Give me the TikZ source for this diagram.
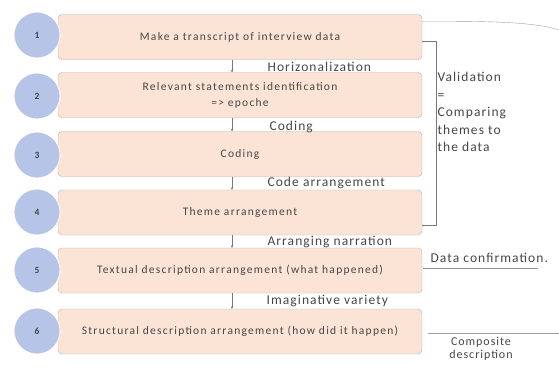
\documentclass[tikz,border=0pt]{standalone}
\usepackage{fontspec}
\setmainfont{Carlito}
\newfontfamily\boxfont[LetterSpace=11]{Carlito}
\newfontfamily\sidefont[LetterSpace=8]{Carlito}
\usepackage{tikz}
\usetikzlibrary{arrows.meta,positioning,calc}
\definecolor{boxpeach}{RGB}{251,228,214}
\definecolor{boxedge}{RGB}{196,170,160}
\definecolor{circblue}{RGB}{182,196,232}
\definecolor{linegray}{RGB}{120,120,120}
\definecolor{textgray}{RGB}{70,70,70}

\begin{document}
\begin{tikzpicture}[x=1pt, y=-1pt,
  stepbox/.style={draw=boxedge, fill=boxpeach, rectangle, rounded corners=4pt,
    minimum width=364pt, minimum height=45pt, align=center, text=textgray,
    font=\boxfont\fontsize{11.5}{16}\selectfont},
  numcirc/.style={circle, fill=circblue, draw=white, line width=0.8pt,
    minimum size=46pt, text=textgray, font=\fontsize{9.5}{10}\selectfont\bfseries},
  lbl/.style={anchor=west, text=textgray, font=\sidefont\fontsize{13.5}{14}\selectfont},
  side/.style={anchor=west, align=left, text=textgray, font=\sidefont\fontsize{13.5}{17.5}\selectfont},
  >={Stealth[length=2.5pt, width=2.5pt]}
]
  \useasboundingbox (0,0) rectangle (559,367);

  % Steps
  \node[stepbox] (S1) at (240,37) {Make a transcript of interview data};
  \node[stepbox] (S2) at (240,95) {Relevant statements identification\\=> epoche};
  \node[stepbox] (S3) at (240,154) {Coding};
  \node[stepbox] (S4) at (240,212.5) {Theme arrangement};
  \node[stepbox] (S5) at (240,270.5) {Textual description arrangement (what happened)};
  \node[stepbox] (S6) at (240,331.5) {Structural description arrangement (how did it happen)};

  % Numbers
  \node[numcirc] (C1) at (37,35) {1};
  \node[numcirc] (C2) at (37,96) {2};
  \node[numcirc] (C3) at (37,155) {3};
  \node[numcirc] (C4) at (37,212) {4};
  \node[numcirc] (C5) at (37,270) {5};
  \node[numcirc] (C6) at (37,331) {6};

  % Step arrows
  \draw[->, linegray, thin] (S1.south -| 232,0) -- (S2.north -| 232,0);
  \draw[->, linegray, thin] (S2.south -| 232,0) -- (S3.north -| 232,0);
  \draw[->, linegray, thin] (S3.south -| 232,0) -- (S4.north -| 232,0);
  \draw[->, linegray, thin] (S4.south -| 232,0) -- (S5.north -| 232,0);
  \draw[->, linegray, thin] (S5.south -| 232,0) -- (S6.north -| 232,0);

  % Arrow labels
  \node[lbl] (L1) at (264,67) {Horizonalization};
  \node[lbl] (L2) at (266,127) {Coding};
  \node[lbl] (L3) at (264,183) {Code arrangement};
  \node[lbl] (L4) at (264,242) {Arranging narration};
  \node[lbl] (L5) at (263,301) {Imaginative variety};

  % Validation bracket
  \coordinate (V1) at (436,41);
  \draw[linegray] (S1.east |- V1) -- (V1) -- (V1 |- 0,225) -- (S4.east |- 0,225);
  \node[side] (V) at (434,112) {Validation\\=\\Comparing\\themes to\\the data};

  % Top curve
  \coordinate (TR) at (559,30);
  \draw[linegray!70] (S1.north east) ++(0,7) .. controls (490,21) and (535,22) .. (TR);

  % Data confirmation
  \node[side] (DC) at (427,258) {Data confirmation.};
  \draw[linegray!80] (DC.south west) ++(-4,2) -- ($(DC.south east)+(-14,2)$);

  % Composite description
  \coordinate (CL) at (428,333);
  \coordinate (CR) at (559,333);
  \draw[linegray!70] (CL) -- (CR);
  \node[side, anchor=center, align=center, font=\sidefont\fontsize{12}{12.5}\selectfont] (CD) at (481,349) {Composite\\description};
\end{tikzpicture}
\end{document}
